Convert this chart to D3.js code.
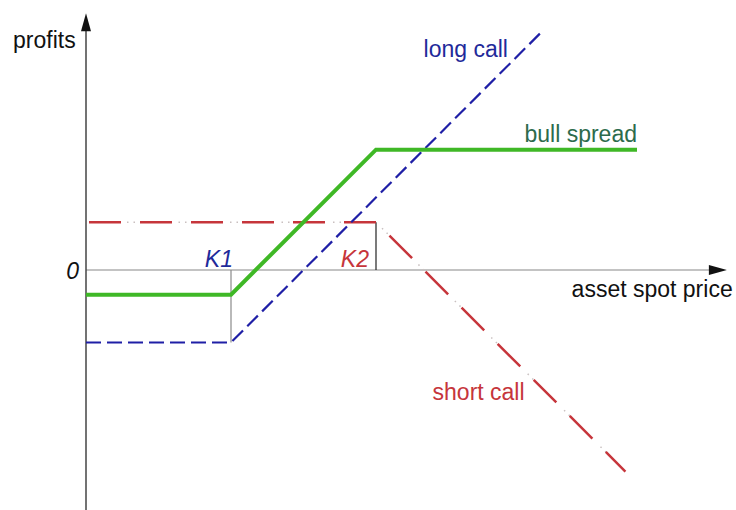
<!DOCTYPE html>
<html>
<head>
<meta charset="utf-8">
<script src="https://cdn.jsdelivr.net/npm/d3@7"></script>
<style>
  body { margin: 0; background: #fff; }
  text { font-family: "Liberation Sans", Arial, sans-serif; }
</style>
</head>
<body>
<svg id="chart" width="736" height="510"></svg>
<script>
// payoff points [spot price, profit]
var strikes = [50, 100];
var strikeNames = ["K1", "K2"];
var longCall = [[0, -25], [50, -25], [156.5, 81.5]];
var shortCall = [[0, 16.5], [100, 16.5], [186, -69.5]];
var bullSpread = [[0, -8.5], [50, -8.5], [100, 41.5], [190, 41.5]];
var seriesNames = ["long call", "short call", "bull spread"];

var svg = d3.select("#chart");

// same px per unit on both axes so the slopes come out at 45 degrees
var x = d3.scaleLinear().domain([0, 220]).range([86, 86 + 220 * 2.9]);
var y = d3.scaleLinear().domain([-90, 90]).range([531, 9]);

var line = d3.line().x(d => x(d[0])).y(d => y(d[1]));

// axes
svg.append("line")
    .attr("x1", x(0)).attr("x2", x(216))
    .attr("y1", y(0)).attr("y2", y(0))
    .attr("stroke", "#888").attr("stroke-width", 1.2);
svg.append("path")
    .attr("d", `M${x(221)},${y(0)} L${x(221) - 18},${y(0) - 5} L${x(221) - 18},${y(0) + 5} Z`)
    .attr("fill", "#111");

svg.append("line")
    .attr("x1", x(0)).attr("x2", x(0))
    .attr("y1", y(-83)).attr("y2", y(84))
    .attr("stroke", "#444").attr("stroke-width", 1.5);
svg.append("path")
    .attr("d", `M${x(0)},${y(88.5)} L${x(0) - 5},${y(88.5) + 18} L${x(0) + 5},${y(88.5) + 18} Z`)
    .attr("fill", "#111");

// strike markers
svg.append("line")
    .attr("x1", x(strikes[0])).attr("x2", x(strikes[0]))
    .attr("y1", y(0)).attr("y2", y(longCall[1][1]))
    .attr("stroke", "#8a8a8a").attr("stroke-width", 1.2);
svg.append("line")
    .attr("x1", x(strikes[1])).attr("x2", x(strikes[1]))
    .attr("y1", y(0)).attr("y2", y(shortCall[1][1]))
    .attr("stroke", "#222").attr("stroke-width", 1.2);

// short call: long dash then two faint dots, dash ends right on the K2 corner
svg.append("path").datum(shortCall)
    .attr("d", line).attr("fill", "none")
    .attr("stroke", "#c9c0c0").attr("stroke-width", 1.5)
    .attr("stroke-dasharray", "0 38 1.5 5 1.5 5.5")
    .attr("stroke-dashoffset", -3);
svg.append("path").datum(shortCall)
    .attr("d", line).attr("fill", "none")
    .attr("stroke", "#c6353b").attr("stroke-width", 2.5)
    .attr("stroke-dasharray", "32 19")
    .attr("stroke-dashoffset", -3);

// long call
svg.append("path").datum(longCall)
    .attr("d", line).attr("fill", "none")
    .attr("stroke", "#1f1fa6").attr("stroke-width", 2.2)
    .attr("stroke-dasharray", "15 6");

// bull spread
svg.append("path").datum(bullSpread)
    .attr("d", line).attr("fill", "none")
    .attr("stroke", "#3fb826").attr("stroke-width", 4)
    .attr("stroke-linejoin", "miter");

// labels
var fs = "23px";
svg.append("text").attr("x", 13).attr("y", 48)
    .style("font-size", fs).attr("fill", "#111").text("profits");
svg.append("text").attr("x", x(0) - 7).attr("y", y(0) + 9)
    .style("font-size", fs).style("font-style", "italic")
    .attr("text-anchor", "end").attr("fill", "#111").text("0");
svg.append("text").attr("x", x(223)).attr("y", y(0) + 27)
    .style("font-size", fs).attr("text-anchor", "end")
    .attr("fill", "#111").text("asset spot price");

svg.append("text").attr("x", x(strikes[0]) + 2).attr("y", y(1))
    .style("font-size", fs).style("font-style", "italic")
    .attr("text-anchor", "end").attr("fill", "#1f2a9a").text(strikeNames[0]);
svg.append("text").attr("x", x(strikes[1]) - 7).attr("y", y(1))
    .style("font-size", fs).style("font-style", "italic")
    .attr("text-anchor", "end").attr("fill", "#c6353b").text(strikeNames[1]);

svg.append("text").attr("x", x(145.5)).attr("y", y(73.4))
    .style("font-size", fs).attr("text-anchor", "end")
    .attr("fill", "#1f2a9a").text(seriesNames[0]);
svg.append("text").attr("x", x(119.5)).attr("y", y(-44.8))
    .style("font-size", fs).attr("fill", "#c6353b").text(seriesNames[1]);
svg.append("text").attr("x", x(190)).attr("y", y(44.1))
    .style("font-size", fs).attr("text-anchor", "end")
    .attr("fill", "#2d6b4c").text(seriesNames[2]);
</script>
</body>
</html>
